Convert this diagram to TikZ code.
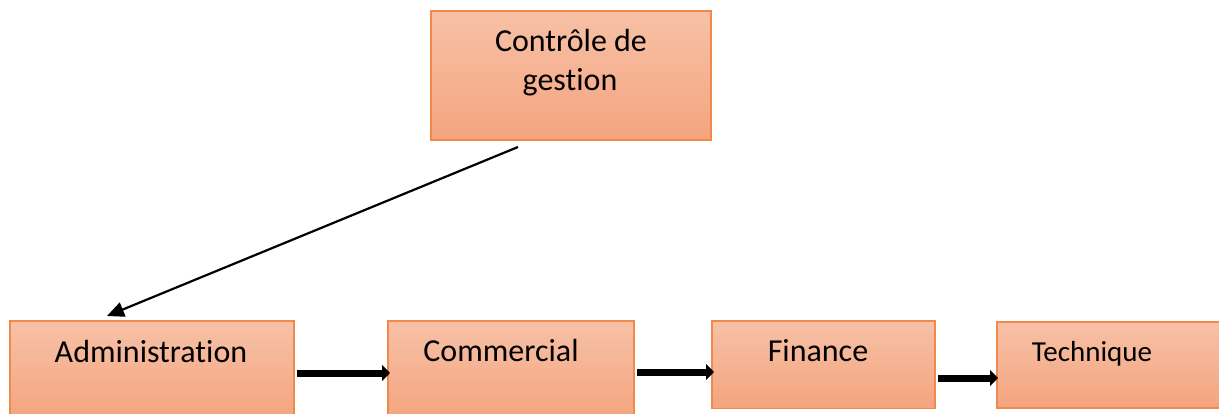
\documentclass[tikz,border=0pt]{standalone}
\usepackage{fontspec}
\setmainfont{Carlito}[Ligatures=NoCommon]
\usetikzlibrary{arrows.meta}
\definecolor{boxtop}{HTML}{F7C1A7}
\definecolor{boxbot}{HTML}{F4A47E}
\definecolor{boxline}{HTML}{F08A4B}
\begin{document}
\begin{tikzpicture}[x=1pt,y=-1pt,
  orgbox/.style={rectangle, draw=boxline, line width=1.3pt, top color=boxtop, bottom color=boxbot, inner sep=0pt},
  lbl/.style={anchor=base, inner sep=0pt, font=\fontsize{32}{39}\selectfont},
  smalllbl/.style={anchor=base, inner sep=0pt, font=\fontsize{29}{35}\selectfont},
  flow/.style={line width=7pt, -{Triangle[length=8pt,width=16pt]}},
  thin/.style={line width=2.2pt, -{Triangle[length=17pt,width=15pt]}}]
\useasboundingbox (0,0) rectangle (1219,414);
\clip (0,0) rectangle (1219,414);
\fill[white] (0,0) rectangle (1219,414);
% boxes
\node[orgbox, minimum width=280pt, minimum height=129pt] (top) at (571,75.5) {};
\node[orgbox, minimum width=284pt, minimum height=99pt] (adm) at (152,370.5) {};
\node[orgbox, minimum width=246pt, minimum height=99pt] (com) at (511,370.5) {};
\node[orgbox, minimum width=223pt, minimum height=87.5pt] (fin) at (823.5,364.75) {};
\node[orgbox, minimum width=228pt, minimum height=86pt] (tec) at (1111,365) {};
% labels
\node[lbl] (topa) at (571,52) {Contrôle de};
\node[lbl] (topb) at (570,91) {gestion};
\node[lbl] (admt) at (151,362) {Administration};
\node[lbl] (comt) at (501,361) {Commercial};
\node[lbl] (fint) at (818,361) {Finance};
\node[smalllbl] (tect) at (1092,361) {Technique};
% connector ends
\coordinate (s0) at (518,147);
\coordinate (e0) at (107,316);
\coordinate (s1) at (297,373);
\coordinate (e1) at (390,373);
\coordinate (s2) at (637,372);
\coordinate (e2) at (714,372);
\coordinate (s3) at (938,378);
\coordinate (e3) at (998,378);
\draw[thin] (s0) -- (e0);
\draw[flow] (s1) -- (e1);
\draw[flow] (s2) -- (e2);
\draw[flow] (s3) -- (e3);
\end{tikzpicture}
\end{document}
